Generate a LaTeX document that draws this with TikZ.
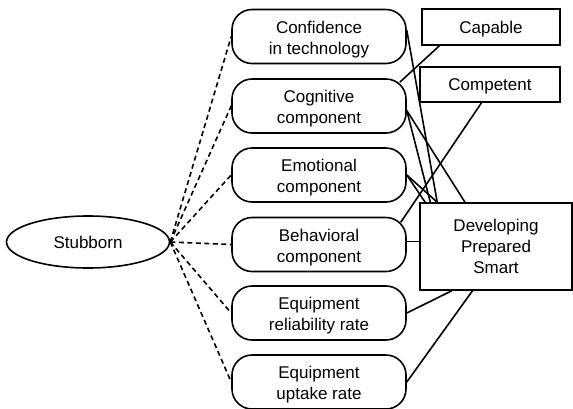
\documentclass[tikz,border=0pt]{standalone}
\usepackage{fontspec}
\setmainfont{Liberation Sans}
\usetikzlibrary{shapes.geometric}

\begin{document}
\begin{tikzpicture}[x=1pt,y=-1pt,line width=1.6pt,
    every node/.style={font=\fontsize{17}{20.8}\selectfont,align=center,inner sep=0pt},
    factor/.style={draw,rounded corners=20pt,minimum width=174pt,minimum height=54pt,text height=39pt},
    outcome/.style={draw},
    link/.style={dash pattern=on 5pt off 3.5pt}]
    \useasboundingbox (0,0) rectangle (573,408);

    % 节点
    \node[draw,ellipse,minimum width=163pt,minimum height=52pt] (stub) at (88,242) {Stubborn};
    \node[factor] (conf) at (319,36.5) {Confidence\\in technology};
    \node[factor] (cog) at (319,106) {Cognitive\\component};
    \node[factor] (emo) at (319,175) {Emotional\\component};
    \node[factor] (beh) at (319,244.5) {Behavioral\\component};
    \node[factor] (rel) at (319,313) {Equipment\\reliability rate};
    \node[factor] (upt) at (319,382) {Equipment\\uptake rate};

    \node[outcome,minimum width=138pt,minimum height=36pt,text depth=0pt] (cap) at (491,27) {Capable};
    \node[outcome,minimum width=140pt,minimum height=35pt,text depth=0pt] (comp) at (490,84.5) {Competent};
    \node[outcome,minimum width=152pt,minimum height=87pt] (dev) at (496,246.5) {Developing\\Prepared\\Smart};

    % 虚线
    \foreach \n in {conf,cog,emo,beh,rel,upt}
        \draw[link] (stub.east) -- (\n.west);

    % 实线
    \draw (conf.4) -- (dev.143);
    \draw (cog.-3) -- (dev.146.6);
    \draw (cog.-3) -- (dev.125.5);
    \draw (emo.east) -- (dev.148.1);
    \draw (emo.east) -- (dev.143);
    \draw (beh.2) -- (beh.2 -| dev.west);
    \draw (rel.east) -- (dev.225.3);
    \draw (upt.east) -- (dev.242.1);
    \draw (cap.200) -- ([shift={(-7,4)}]cog.north east);
    \draw (comp.245) -- ([shift={(-6,5.5)}]beh.north east);

\end{tikzpicture}
\end{document}
